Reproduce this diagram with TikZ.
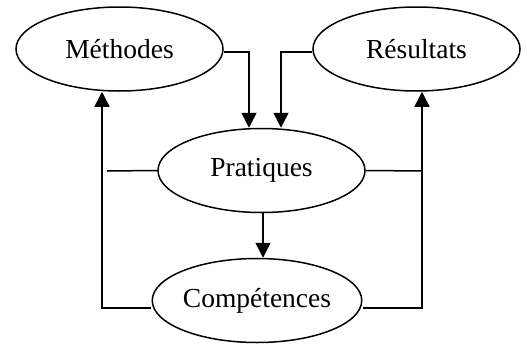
\documentclass[tikz,border=0pt]{standalone}
\usepackage{fontspec}
\setmainfont{Liberation Serif}
\usetikzlibrary{arrows.meta,shapes.geometric}
\begin{document}
\begin{tikzpicture}[x=1pt,y=-1pt,
  oval/.style={draw,line width=1.5pt,ellipse,minimum width=207pt,minimum height=84pt,inner sep=0pt,font=\fontsize{27.5}{30}\selectfont},
  link/.style={line width=1.5pt},
  arr/.style={link,-{Triangle[length=15pt,width=15pt]}}]
\useasboundingbox (0,0) rectangle (527,343);
\node[oval] (met) at (119.5,49) {Méthodes};
\node[oval] (res) at (416.5,49) {Résultats};
\node[oval] (pra) at (261.5,170.5) {Pratiques};
\node[oval] (com) at (257,300.5) {Compétences};
% inputs into Pratiques
\draw[arr] (met.east |- 0,52) -| (249,0 |- pra.north);
\draw[arr] (res.west |- 0,52) -| (281,0 |- pra.north);
% Pratiques to Compétences
\draw[arr] (263,0 |- pra.south) -- (263,0 |- com.north);
% side loops
\coordinate (lstub) at (107,171);
\draw[link] (pra.west) -- (lstub);
\draw[link] (pra.east) -- (422,171);
\draw[arr] (com.west |- 0,308) -| (102,0 |- met.south);
\draw[arr] (com.east |- 0,308) -| (422,0 |- res.south);
\end{tikzpicture}
\end{document}
